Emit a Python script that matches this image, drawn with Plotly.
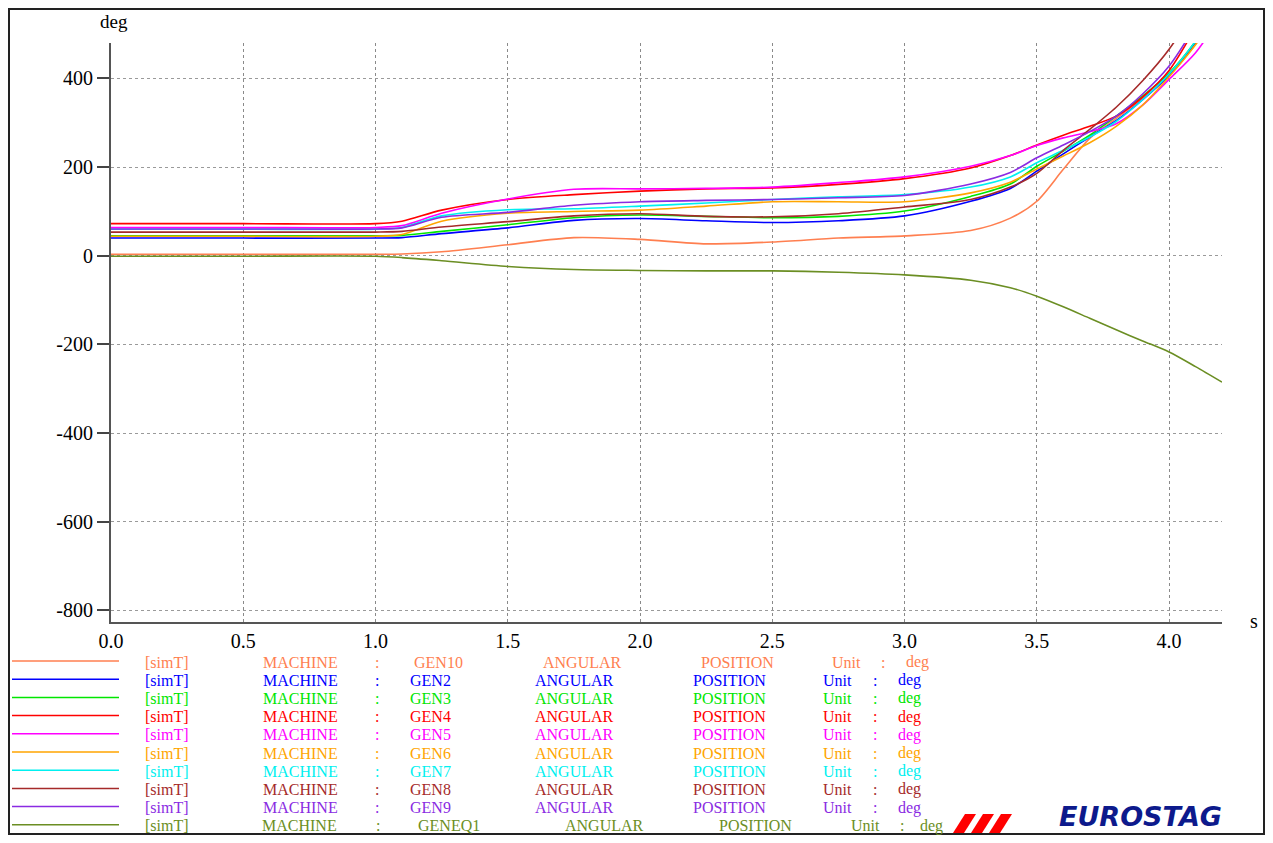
"""EUROSTAG plot: machine angular positions vs time, rebuilt with Plotly."""
import plotly.graph_objects as go

# ---- data ----
TIME_S = [0.0, 0.5, 1.0, 1.1, 1.25, 1.5, 1.75, 2.0, 2.25, 2.5, 2.75, 3.0,
          3.25, 3.4, 3.5, 3.6, 3.7, 3.8, 3.9, 4.0, 4.1, 4.2]

GEN10 = [3.5, 3.5, 3.5, 4, 9, 25, 41, 37, 27, 31, 40, 45,
         57, 85, 123, 195, 265, 310, 355, 406, 478, 565]
GEN2 = [40, 40, 40, 41, 50, 63, 80, 84, 79, 75, 79, 90,
        123, 152, 191, 230, 268, 305, 352, 408, 482, 575]
GEN3 = [45, 45, 45, 46, 55, 70, 86, 92, 89, 86, 89, 101,
        134, 162, 202, 236, 272, 315, 360, 412, 484, 580]
GEN4 = [72.5, 72.5, 72.5, 78, 103, 127, 138, 146, 151, 153, 161, 174,
        198, 226, 250, 272, 292, 315, 358, 418, 515, 625]
GEN5 = [64, 64, 64, 68, 96, 128, 150, 151, 152, 155, 165, 178,
        202, 226, 249, 266, 280, 298, 340, 398, 458, 545]
GEN6 = [44, 44, 44, 48, 78, 96, 100, 103, 112, 122, 122, 122,
        142, 166, 196, 225, 255, 292, 340, 404, 476, 565]
GEN7 = [60, 60, 60, 64, 90, 104, 106, 112, 119, 127, 133, 138,
        155, 178, 210, 238, 268, 303, 352, 410, 484, 575]
GEN8 = [53.5, 53.5, 53.5, 55, 65, 77, 90, 95, 89, 88, 95, 110,
        127, 155, 186, 238, 285, 335, 395, 466, 560, 680]
GEN9 = [60.5, 60.5, 60.5, 63, 87, 98, 114, 122, 125, 127, 131, 136,
        162, 188, 221, 250, 280, 315, 365, 428, 520, 630]
GENEQ1 = [-1, -1, -1, -4, -11, -24, -31, -33, -34, -34, -37, -43,
          -55, -72, -91, -115, -141, -167, -192, -217, -250, -285]

SERIES = [
    ("GEN10", GEN10, "#ff7f50"),
    ("GEN2", GEN2, "#0000ff"),
    ("GEN3", GEN3, "#00e600"),
    ("GEN4", GEN4, "#ff0000"),
    ("GEN5", GEN5, "#ff00ff"),
    ("GEN6", GEN6, "#ffa500"),
    ("GEN7", GEN7, "#00f0f0"),
    ("GEN8", GEN8, "#a52a2a"),
    ("GEN9", GEN9, "#8a2be2"),
    ("GENEQ1", GENEQ1, "#6b8e23"),
]

X_TICKS = [0.0, 0.5, 1.0, 1.5, 2.0, 2.5, 3.0, 3.5, 4.0]
Y_TICKS = [-800, -600, -400, -200, 0, 200, 400]

# the page body has an 8px margin, so the figure is drawn 8px in from the corner
OFF = 8
W, H = 1265, 827
L, T = 103, 35
PW, PH = 1111, 579
R, B = W - L - PW, H - T - PH
FONT = "Liberation Serif"


def px(x):
    """screen x -> paper x"""
    return (x - OFF - L) / PW


def py(y):
    """screen y -> paper y"""
    return (T + PH - (y - OFF)) / PH


def _word_centers(name):
    if name == "GEN10":
        return [167, 300, 377, 438, 582, 737, 846, 883, 917]
    if name == "GENEQ1":
        return [167, 299, 378, 449, 604, 755, 865, 902, 931]
    return [167, 300, 377, 430, 574, 729, 838, 875, 909]


fig = go.Figure()
for name, vals, color in SERIES:
    fig.add_trace(go.Scatter(
        x=TIME_S, y=vals, mode="lines", name=name,
        line=dict(color=color, width=1.6, shape="spline", smoothing=0.8),
        showlegend=False,
    ))

shapes = []
annotations = []

# hand-built legend under the plot
for i, (name, _, color) in enumerate(SERIES):
    yrow = 661 + i * 18.2
    shapes.append(dict(
        type="line", xref="paper", yref="paper",
        x0=px(12), x1=px(119), y0=py(yrow), y1=py(yrow),
        line=dict(color=color, width=1.5),
    ))
    words = ["[simT]", "MACHINE", ":", name, "ANGULAR", "POSITION", "Unit", ":", "deg"]
    for word, xc in zip(words, _word_centers(name)):
        annotations.append(dict(
            text=word, xref="paper", yref="paper",
            x=px(xc), y=py(yrow + 1), xanchor="center", yanchor="middle",
            showarrow=False, font=dict(family=FONT, size=16, color=color),
        ))

# axis unit labels
annotations.append(dict(text="deg", xref="paper", yref="paper", x=px(114), y=py(9),
                        xanchor="center", yanchor="top", showarrow=False,
                        font=dict(family=FONT, size=19, color="black")))
annotations.append(dict(text="s", xref="paper", yref="paper", x=px(1254), y=py(621),
                        xanchor="center", yanchor="middle", showarrow=False,
                        font=dict(family=FONT, size=20, color="black")))

# EUROSTAG logo: red stripes + wordmark
for i in range(3):
    bl = 953 + i * 18
    shapes.append(dict(
        type="path", xref="paper", yref="paper",
        path=(f"M {px(bl)},{py(833)} L {px(bl + 11)},{py(833)} "
              f"L {px(bl + 23)},{py(814)} L {px(bl + 12)},{py(814)} Z"),
        fillcolor="#ff0000", line=dict(width=0),
    ))
annotations.append(dict(
    text="EUROSTAG", xref="paper", yref="paper", x=px(1140), y=py(834),
    xanchor="center", yanchor="bottom", showarrow=False,
    font=dict(family="DejaVu Sans", size=27, color="#0d1a8c",
              weight="bold", style="italic"),
))

# outer frame
shapes.append(dict(
    type="rect", xref="paper", yref="paper",
    x0=px(9), x1=px(1264), y0=py(834), y1=py(9),
    line=dict(color="#222222", width=2), fillcolor="rgba(0,0,0,0)",
))

fig.update_xaxes(
    range=[0, 4.2], tickvals=X_TICKS, ticktext=[f"{v:.1f}" for v in X_TICKS],
    showline=True, linecolor="#555555", linewidth=2, mirror=False,
    showgrid=True, gridcolor="#8a8a8a", griddash="dot", gridwidth=1,
    ticks="", zeroline=False,
    tickfont=dict(family=FONT, size=20, color="black"),
)
fig.update_yaxes(
    range=[-826, 480], tickvals=Y_TICKS, ticktext=[str(v) for v in Y_TICKS],
    showline=True, linecolor="#555555", linewidth=2,
    showgrid=True, gridcolor="#9a9a9a", griddash="dot", gridwidth=1,
    ticks="outside", ticklen=12, tickwidth=2, tickcolor="#444444",
    zeroline=False, tickfont=dict(family=FONT, size=20, color="black"),
)
fig.update_layout(
    width=W, height=H,
    margin=dict(l=L, r=R, t=T, b=B, pad=0),
    paper_bgcolor="white", plot_bgcolor="white",
    shapes=shapes, annotations=annotations,
    showlegend=False,
    font=dict(family=FONT, size=20),
)

fig.write_html("out.html")
